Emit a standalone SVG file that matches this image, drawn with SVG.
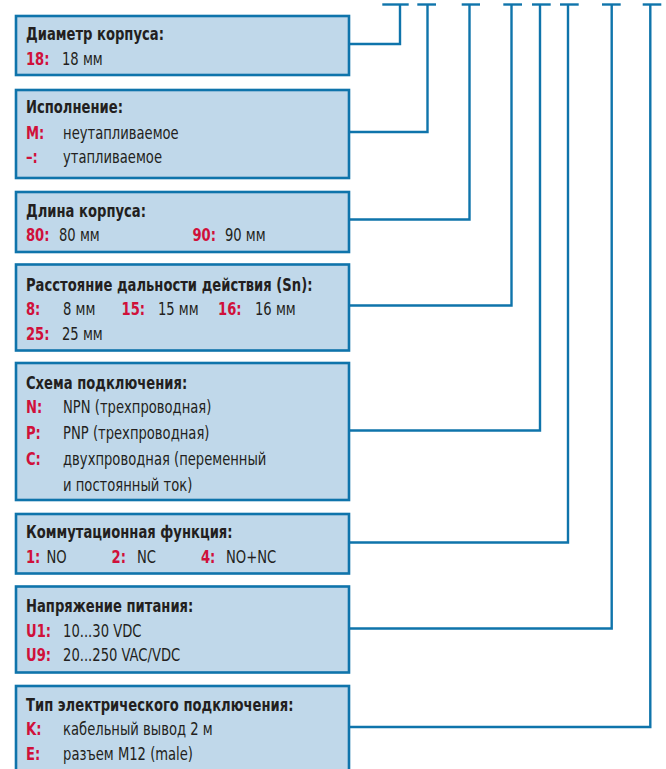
<svg xmlns="http://www.w3.org/2000/svg" width="666" height="769" viewBox="0 0 666 769">
<style>
.box{fill:#c0d8ea;stroke:#0f74ab;stroke-width:2.6}
.con{fill:none;stroke:#0f74ab;stroke-width:2.4}
text{font-family:"DejaVu Sans Condensed","Liberation Sans Narrow","Liberation Sans",sans-serif;font-size:17px;fill:#231f20}
.t{font-weight:bold}
.k{font-weight:bold;fill:#d0103a}
</style>
<rect width="666" height="769" fill="#ffffff"/>
<g id="connectors">
<polyline class="con" points="349,44 400,44 400,4.5"/><line class="con" x1="382.3" y1="4.5" x2="408.7" y2="4.5"/>
<polyline class="con" points="349,132 427.5,132 427.5,4.5"/><line class="con" x1="417.3" y1="4.5" x2="436" y2="4.5"/>
<polyline class="con" points="349,219.5 469.5,219.5 469.5,4.5"/><line class="con" x1="461.7" y1="4.5" x2="480" y2="4.5"/>
<polyline class="con" points="349,305.5 511.5,305.5 511.5,4.5"/><line class="con" x1="503.3" y1="4.5" x2="522" y2="4.5"/>
<polyline class="con" points="349,430.5 540,430.5 540,4.5"/><line class="con" x1="532" y1="4.5" x2="550.7" y2="4.5"/>
<polyline class="con" points="349,542.5 568,542.5 568,4.5"/><line class="con" x1="560" y1="4.5" x2="578.7" y2="4.5"/>
<polyline class="con" points="349,628.5 611.7,628.5 611.7,4.5"/><line class="con" x1="602" y1="4.5" x2="620.7" y2="4.5"/>
<polyline class="con" points="349,727 650.3,727 650.3,4.5"/><line class="con" x1="642.7" y1="4.5" x2="661.3" y2="4.5"/>
</g>
<g id="n1">
<rect class="box" x="16" y="16" width="333" height="59"/>
<g transform="scale(0.86,1)">
<text class="t" x="30.2" y="40.5">Диаметр корпуса:</text>
<text class="k" x="30.2" y="65">18:</text><text x="72.1" y="65">18 мм</text>
</g>
</g>
<g id="n2">
<rect class="box" x="16" y="90" width="333" height="88"/>
<g transform="scale(0.86,1)">
<text class="t" x="30.2" y="113.5">Исполнение:</text>
<text class="k" x="30.2" y="139">M:</text><text x="73.3" y="139">неутапливаемое</text>
<text class="k" x="30.2" y="163.5">–:</text><text x="73.3" y="163.5">утапливаемое</text>
</g>
</g>
<g id="n3">
<rect class="box" x="16" y="192" width="333" height="60"/>
<g transform="scale(0.86,1)">
<text class="t" x="30.2" y="217.5">Длина корпуса:</text>
<text class="k" x="30.2" y="241.5">80:</text><text x="68.6" y="241.5">80 мм</text>
<text class="k" x="223.8" y="241.5">90:</text><text x="261.6" y="241.5">90 мм</text>
</g>
</g>
<g id="n4">
<rect class="box" x="16" y="264.5" width="333" height="86"/>
<g transform="scale(0.86,1)">
<text class="t" x="30.2" y="291.5">Расстояние дальности действия (Sn):</text>
<text class="k" x="30.2" y="315">8:</text><text x="73.3" y="315">8 мм</text>
<text class="k" x="141.3" y="315">15:</text><text x="183.7" y="315">15 мм</text>
<text class="k" x="253.5" y="315">16:</text><text x="296.5" y="315">16 мм</text>
<text class="k" x="30.2" y="340">25:</text><text x="72.1" y="340">25 мм</text>
</g>
</g>
<g id="n5">
<rect class="box" x="16" y="363" width="333" height="137"/>
<g transform="scale(0.86,1)">
<text class="t" x="30.2" y="389">Схема подключения:</text>
<text class="k" x="30.2" y="413.5">N:</text><text x="73.3" y="413.5">NPN (трехпроводная)</text>
<text class="k" x="30.2" y="439.5">P:</text><text x="73.3" y="439.5">PNP (трехпроводная)</text>
<text class="k" x="30.2" y="465.5">C:</text><text x="73.3" y="465.5">двухпроводная (переменный</text>
<text x="73.3" y="491">и постоянный ток)</text>
</g>
</g>
<g id="n6">
<rect class="box" x="16" y="514" width="333" height="59.5"/>
<g transform="scale(0.86,1)">
<text class="t" x="30.2" y="538.5">Коммутационная функция:</text>
<text class="k" x="30.2" y="563.5">1:</text><text x="54.1" y="563.5">NO</text>
<text class="k" x="129.7" y="563.5">2:</text><text x="159.3" y="563.5">NC</text>
<text class="k" x="233.7" y="563.5">4:</text><text x="262.8" y="563.5">NO+NC</text>
</g>
</g>
<g id="n7">
<rect class="box" x="16" y="586.5" width="333" height="86"/>
<g transform="scale(0.86,1)">
<text class="t" x="30.2" y="612.5">Напряжение питания:</text>
<text class="k" x="30.2" y="637">U1:</text><text x="73.3" y="637">10...30 VDC</text>
<text class="k" x="30.2" y="661.5">U9:</text><text x="73.3" y="661.5">20...250 VAC/VDC</text>
</g>
</g>
<g id="n8">
<rect class="box" x="16" y="686" width="333" height="100"/>
<g transform="scale(0.86,1)">
<text class="t" x="30.2" y="711.5">Тип электрического подключения:</text>
<text class="k" x="30.2" y="735.5">K:</text><text x="73.3" y="735.5">кабельный вывод 2 м</text>
<text class="k" x="30.2" y="760">E:</text><text x="73.3" y="760">разъем M12 (male)</text>
</g>
</g>
</svg>
